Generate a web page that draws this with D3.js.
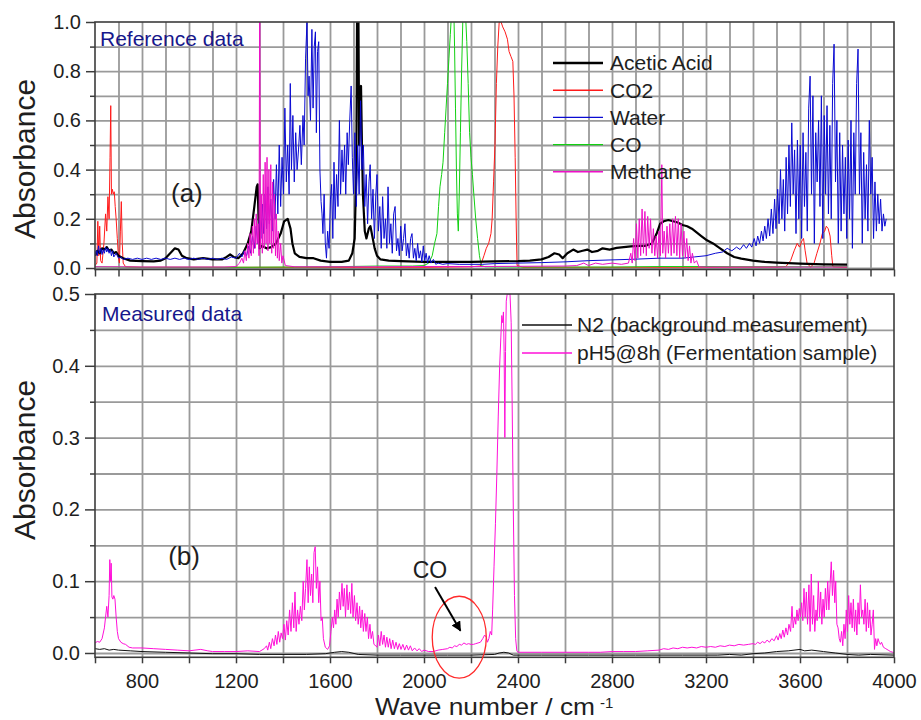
<!DOCTYPE html>
<html>
<head>
<meta charset="utf-8">
<script src="https://cdn.jsdelivr.net/npm/d3@7"></script>
<style>
  body { margin: 0; background: #fff; }
  svg { display: block; font-family: "Liberation Sans", Arial, sans-serif; }
</style>
</head>
<body>
<svg id="chart" width="921" height="720"></svg>
<script>
// ---- Spectra: [wave number (cm-1), absorbance] ----

// (a) reference spectra
const aceticAcid = [[600,0.05],[610,0.07],[620,0.06],[630,0.08],[640,0.075],[650,0.085],[660,0.07],[670,0.075],[680,0.06],[690,0.065],[700,0.05],[720,0.04],[750,0.03],[800,0.028],[850,0.027],[880,0.03],[900,0.04],[920,0.06],[940,0.08],[955,0.075],[970,0.05],[990,0.04],[1020,0.035],[1060,0.04],[1100,0.035],[1140,0.035],[1160,0.045],[1175,0.055],[1190,0.045],[1210,0.04],[1230,0.06],[1250,0.1],[1265,0.15],[1278,0.25],[1288,0.33],[1292,0.34],[1296,0.2],[1300,0.08],[1310,0.09],[1330,0.08],[1350,0.085],[1370,0.1],[1390,0.14],[1405,0.19],[1420,0.2],[1432,0.16],[1440,0.1],[1450,0.06],[1470,0.045],[1500,0.04],[1530,0.04],[1560,0.03],[1600,0.025],[1650,0.025],[1680,0.03],[1695,0.06],[1705,0.12],[1712,0.4],[1716,1.2],[1720,1.2],[1724,0.5],[1728,0.72],[1732,0.74],[1736,0.5],[1740,0.3],[1748,0.15],[1755,0.12],[1765,0.16],[1772,0.17],[1780,0.13],[1790,0.08],[1800,0.05],[1815,0.035],[1850,0.03],[1900,0.028],[2000,0.025],[2100,0.025],[2200,0.025],[2300,0.027],[2400,0.028],[2450,0.03],[2500,0.035],[2530,0.045],[2555,0.06],[2575,0.055],[2590,0.04],[2610,0.06],[2635,0.075],[2655,0.065],[2675,0.07],[2695,0.075],[2715,0.065],[2740,0.07],[2760,0.08],[2790,0.075],[2820,0.082],[2850,0.085],[2880,0.088],[2910,0.09],[2940,0.09],[2970,0.1],[2990,0.14],[3005,0.18],[3020,0.19],[3040,0.195],[3060,0.19],[3080,0.185],[3100,0.175],[3120,0.17],[3140,0.16],[3160,0.145],[3180,0.13],[3200,0.115],[3230,0.1],[3260,0.08],[3290,0.06],[3320,0.045],[3350,0.038],[3400,0.03],[3450,0.025],[3500,0.022],[3550,0.02],[3600,0.018],[3700,0.015],[3800,0.014]];

const co2 = [[600,0.01],[608,0.02],[612,0.19],[616,0.05],[620,0.17],[624,0.03],[630,0.02],[638,0.1],[645,0.22],[650,0.15],[655,0.29],[660,0.2],[664,0.45],[667,0.66],[670,0.3],[674,0.32],[678,0.3],[682,0.31],[686,0.25],[690,0.2],[695,0.12],[700,0.04],[704,0.02],[708,0.15],[712,0.27],[716,0.1],[720,0.02],[730,0.005],[800,0.003],[1200,0.003],[1600,0.003],[2000,0.003],[2200,0.005],[2240,0.008],[2255,0.05],[2265,0.08],[2275,0.1],[2285,0.14],[2290,0.2],[2296,0.35],[2302,0.5],[2308,0.75],[2314,0.9],[2320,1.0],[2328,1.0],[2335,0.98],[2345,0.96],[2355,0.93],[2362,0.88],[2370,0.86],[2378,0.84],[2383,0.7],[2388,0.45],[2392,0.2],[2396,0.01],[2420,0.003],[3000,0.003],[3500,0.004],[3540,0.006],[3560,0.03],[3575,0.07],[3588,0.1],[3598,0.085],[3608,0.11],[3615,0.12],[3622,0.07],[3630,0.02],[3645,0.003],[3660,0.02],[3672,0.06],[3685,0.1],[3695,0.14],[3705,0.15],[3712,0.17],[3720,0.16],[3728,0.13],[3735,0.05],[3740,0.005],[3800,0.003]];

const water = [[600,0.05],[605,0.07],[610,0.05],[615,0.09],[620,0.06],[625,0.08],[630,0.055],[635,0.075],[640,0.06],[645,0.085],[650,0.065],[655,0.08],[660,0.06],[665,0.075],[670,0.05],[675,0.07],[680,0.045],[690,0.06],[700,0.04],[710,0.045],[720,0.035],[740,0.04],[760,0.035],[780,0.04],[800,0.035],[820,0.04],[840,0.035],[860,0.04],[880,0.035],[900,0.04],[920,0.035],[940,0.04],[960,0.035],[980,0.04],[1000,0.035],[1020,0.04],[1040,0.035],[1060,0.04],[1080,0.035],[1100,0.04],[1120,0.035],[1140,0.04],[1160,0.035],[1180,0.045],[1200,0.04],[1215,0.06],[1225,0.045],[1235,0.07],[1245,0.05],[1255,0.09],[1262,0.06],[1270,0.13],[1278,0.08],[1286,0.17],[1292,0.1],[1300,0.2],[1306,0.12],[1312,0.26],[1318,0.14],[1324,0.3],[1330,0.16],[1336,0.33],[1342,0.18],[1348,0.28],[1354,0.15],[1360,0.36],[1366,0.2],[1372,0.42],[1378,0.22],[1384,0.5],[1390,0.25],[1396,0.45],[1402,0.3],[1408,0.65],[1414,0.35],[1420,0.5],[1426,0.3],[1431,0.75],[1436,0.4],[1442,0.62],[1448,0.35],[1454,0.55],[1460,0.4],[1466,0.48],[1472,0.58],[1478,0.42],[1485,0.62],[1490,0.5],[1496,0.85],[1502,1.0],[1507,0.7],[1511,0.78],[1517,0.6],[1523,0.97],[1528,0.65],[1533,0.9],[1538,0.96],[1542,0.55],[1547,0.88],[1552,0.92],[1557,0.4],[1562,0.27],[1566,0.22],[1570,0.14],[1575,0.3],[1580,0.1],[1585,0.04],[1590,0.15],[1596,0.08],[1602,0.28],[1607,0.34],[1612,0.12],[1617,0.43],[1622,0.2],[1628,0.38],[1634,0.25],[1640,0.6],[1645,0.3],[1651,0.48],[1656,0.35],[1662,0.5],[1667,0.3],[1673,0.55],[1678,0.42],[1684,0.6],[1690,0.74],[1695,0.45],[1700,0.3],[1706,0.55],[1712,0.25],[1718,0.5],[1724,0.3],[1730,0.68],[1736,0.4],[1742,0.5],[1748,0.25],[1754,0.38],[1760,0.18],[1766,0.35],[1771,0.42],[1777,0.2],[1783,0.32],[1789,0.12],[1795,0.3],[1800,0.38],[1806,0.15],[1812,0.25],[1818,0.08],[1824,0.29],[1830,0.12],[1836,0.2],[1842,0.08],[1847,0.33],[1853,0.1],[1859,0.18],[1865,0.06],[1871,0.22],[1877,0.25],[1883,0.07],[1889,0.12],[1895,0.05],[1901,0.17],[1907,0.07],[1913,0.12],[1919,0.18],[1925,0.05],[1931,0.1],[1937,0.04],[1943,0.12],[1949,0.14],[1955,0.04],[1961,0.08],[1967,0.03],[1973,0.1],[1979,0.04],[1985,0.07],[1991,0.025],[1997,0.09],[2003,0.03],[2009,0.06],[2015,0.02],[2022,0.05],[2030,0.02],[2040,0.035],[2050,0.015],[2060,0.02],[2080,0.015],[2100,0.018],[2150,0.015],[2200,0.015],[2250,0.015],[2300,0.018],[2400,0.02],[2500,0.022],[2600,0.025],[2700,0.03],[2800,0.033],[2900,0.036],[3000,0.04],[3100,0.04],[3150,0.045],[3200,0.05],[3240,0.06],[3270,0.065],[3290,0.08],[3310,0.07],[3330,0.085],[3345,0.075],[3360,0.095],[3372,0.08],[3385,0.1],[3395,0.085],[3405,0.12],[3413,0.09],[3420,0.13],[3428,0.1],[3436,0.15],[3443,0.11],[3450,0.17],[3457,0.12],[3464,0.2],[3471,0.13],[3478,0.24],[3485,0.14],[3492,0.28],[3498,0.16],[3505,0.32],[3511,0.18],[3517,0.4],[3523,0.2],[3529,0.36],[3535,0.15],[3541,0.45],[3547,0.22],[3553,0.5],[3559,0.25],[3565,0.59],[3571,0.3],[3577,0.48],[3583,0.14],[3589,0.52],[3595,0.2],[3601,0.5],[3607,0.12],[3613,0.55],[3619,0.25],[3625,0.47],[3631,0.15],[3637,0.65],[3643,0.78],[3649,0.3],[3655,0.7],[3661,0.1],[3667,0.55],[3673,0.35],[3679,0.6],[3685,0.25],[3691,0.7],[3697,0.12],[3703,0.62],[3709,0.3],[3715,0.66],[3721,0.22],[3727,0.58],[3733,0.2],[3739,0.75],[3745,0.91],[3751,0.35],[3757,0.6],[3763,0.1],[3769,0.55],[3775,0.15],[3781,0.5],[3787,0.22],[3793,0.45],[3799,0.12],[3805,0.52],[3811,0.2],[3817,0.6],[3823,0.08],[3829,0.55],[3835,0.3],[3841,0.75],[3847,0.89],[3853,0.3],[3859,0.55],[3865,0.1],[3871,0.47],[3877,0.2],[3883,0.42],[3889,0.15],[3895,0.6],[3901,0.3],[3907,0.45],[3913,0.12],[3919,0.35],[3925,0.15],[3931,0.3],[3937,0.18],[3943,0.28],[3949,0.15],[3955,0.22],[3961,0.17],[3967,0.2]];

const carbonMonoxide = [[600,0.005],[700,0.004],[800,0.003],[1000,0.003],[1200,0.003],[1400,0.004],[1600,0.005],[1800,0.008],[1950,0.008],[2000,0.01],[2020,0.02],[2035,0.05],[2045,0.1],[2055,0.14],[2062,0.25],[2068,0.33],[2075,0.38],[2081,0.43],[2088,0.55],[2094,0.65],[2100,0.75],[2106,0.85],[2112,0.95],[2118,1.05],[2126,1.1],[2130,0.9],[2134,0.65],[2138,0.4],[2142,0.22],[2146,0.15],[2150,0.3],[2155,0.55],[2160,0.8],[2165,1.0],[2170,1.1],[2176,1.05],[2182,0.92],[2188,0.75],[2194,0.55],[2200,0.45],[2206,0.38],[2212,0.3],[2220,0.2],[2228,0.12],[2236,0.05],[2244,0.01],[2260,0.005],[2400,0.004],[2600,0.004],[2800,0.004],[3000,0.006],[3200,0.006],[3400,0.005],[3600,0.005],[3800,0.005]];

const methane = [[600,0.005],[700,0.005],[800,0.004],[1000,0.004],[1150,0.004],[1200,0.006],[1215,0.02],[1225,0.04],[1232,0.02],[1238,0.07],[1244,0.03],[1250,0.1],[1255,0.04],[1260,0.14],[1265,0.05],[1270,0.17],[1274,0.06],[1278,0.2],[1282,0.08],[1286,0.22],[1290,0.1],[1294,0.18],[1298,0.05],[1301,1.2],[1304,0.08],[1308,0.3],[1312,0.06],[1316,0.38],[1320,0.08],[1324,0.43],[1328,0.1],[1332,0.45],[1336,0.07],[1340,0.4],[1344,0.1],[1348,0.42],[1352,0.06],[1356,0.35],[1360,0.08],[1364,0.3],[1368,0.05],[1372,0.22],[1376,0.04],[1380,0.15],[1384,0.03],[1390,0.1],[1395,0.02],[1400,0.05],[1410,0.01],[1450,0.005],[1600,0.005],[1800,0.005],[2000,0.006],[2200,0.006],[2400,0.007],[2600,0.008],[2650,0.01],[2680,0.02],[2700,0.01],[2730,0.02],[2760,0.015],[2800,0.02],[2840,0.015],[2870,0.02],[2880,0.06],[2886,0.02],[2892,0.12],[2898,0.03],[2904,0.18],[2910,0.04],[2916,0.2],[2922,0.05],[2928,0.24],[2934,0.06],[2940,0.23],[2946,0.05],[2952,0.21],[2958,0.08],[2964,0.2],[2970,0.06],[2976,0.16],[2982,0.05],[2988,0.13],[2994,0.04],[3000,0.15],[3006,0.05],[3012,0.42],[3016,0.06],[3022,0.15],[3028,0.04],[3034,0.17],[3040,0.06],[3046,0.18],[3052,0.05],[3058,0.2],[3064,0.06],[3070,0.21],[3076,0.05],[3082,0.2],[3088,0.04],[3094,0.18],[3100,0.05],[3106,0.15],[3112,0.04],[3118,0.12],[3124,0.03],[3130,0.09],[3136,0.02],[3142,0.06],[3150,0.02],[3160,0.03],[3170,0.005],[3200,0.004],[3400,0.004],[3600,0.004],[3800,0.004]];

// (b) measured spectra
const n2Background = [[600,0.006],[620,0.005],[640,0.006],[660,0.004],[680,0.005],[700,0.004],[750,0.003],[800,0.002],[900,0.001],[1000,0.0],[1100,-0.001],[1200,-0.001],[1300,-0.002],[1400,-0.002],[1500,-0.002],[1580,-0.001],[1620,0.001],[1650,0.002],[1680,0.001],[1720,-0.002],[1800,-0.003],[1900,-0.003],[2000,-0.003],[2100,-0.003],[2200,-0.003],[2300,-0.002],[2320,0.0],[2340,0.001],[2360,0.0],[2380,-0.003],[2500,-0.003],[2700,-0.003],[2900,-0.003],[3100,-0.003],[3250,-0.003],[3300,-0.002],[3350,-0.003],[3400,-0.001],[3450,0.0],[3500,0.002],[3550,0.003],[3600,0.005],[3620,0.003],[3650,0.004],[3700,0.002],[3750,0.0],[3800,-0.002],[3850,-0.003],[3900,-0.002],[4000,-0.003]];

const ph5Sample = [[600,0.014],[610,0.016],[620,0.015],[630,0.02],[640,0.035],[645,0.05],[650,0.065],[655,0.05],[660,0.08],[663,0.13],[666,0.1],[669,0.125],[672,0.078],[676,0.075],[680,0.08],[685,0.075],[690,0.05],[695,0.03],[700,0.02],[710,0.015],[720,0.013],[730,0.012],[745,0.008],[760,0.007],[800,0.007],[850,0.006],[900,0.005],[950,0.004],[1000,0.003],[1050,0.005],[1080,0.003],[1100,0.002],[1150,0.002],[1200,0.002],[1250,0.003],[1300,0.002],[1320,0.006],[1330,0.01],[1335,0.004],[1342,0.015],[1348,0.006],[1355,0.02],[1362,0.01],[1368,0.025],[1374,0.012],[1380,0.03],[1386,0.015],[1392,0.028],[1398,0.02],[1404,0.04],[1410,0.018],[1416,0.045],[1422,0.025],[1428,0.06],[1434,0.03],[1440,0.07],[1446,0.035],[1451,0.085],[1456,0.03],[1462,0.06],[1468,0.04],[1474,0.065],[1480,0.045],[1486,0.1],[1491,0.06],[1496,0.09],[1502,0.13],[1507,0.07],[1512,0.12],[1517,0.08],[1522,0.11],[1527,0.07],[1532,0.14],[1537,0.148],[1542,0.09],[1547,0.12],[1552,0.07],[1557,0.1],[1562,0.045],[1567,0.05],[1572,0.02],[1580,0.008],[1590,0.005],[1598,0.01],[1604,0.03],[1610,0.05],[1615,0.035],[1620,0.06],[1625,0.04],[1630,0.075],[1635,0.05],[1640,0.085],[1645,0.06],[1651,0.097],[1656,0.065],[1661,0.09],[1666,0.05],[1672,0.095],[1677,0.06],[1683,0.085],[1688,0.055],[1693,0.097],[1698,0.05],[1704,0.08],[1709,0.045],[1715,0.07],[1720,0.04],[1726,0.065],[1731,0.035],[1737,0.06],[1742,0.03],[1748,0.055],[1753,0.03],[1759,0.05],[1764,0.02],[1770,0.04],[1775,0.02],[1781,0.03],[1787,0.012],[1795,0.01],[1800,0.008],[1806,0.025],[1812,0.01],[1818,0.03],[1824,0.012],[1830,0.025],[1836,0.008],[1842,0.022],[1848,0.008],[1854,0.02],[1860,0.006],[1867,0.018],[1874,0.006],[1881,0.015],[1888,0.005],[1895,0.013],[1902,0.005],[1910,0.012],[1918,0.004],[1926,0.011],[1934,0.004],[1942,0.01],[1950,0.003],[1960,0.007],[1970,0.003],[1980,0.006],[1990,0.002],[2000,0.004],[2020,0.002],[2040,0.002],[2060,0.004],[2080,0.005],[2100,0.006],[2110,0.008],[2120,0.007],[2130,0.01],[2140,0.009],[2150,0.012],[2160,0.011],[2170,0.014],[2180,0.012],[2190,0.013],[2200,0.012],[2210,0.012],[2220,0.013],[2230,0.014],[2240,0.015],[2250,0.02],[2258,0.025],[2265,0.022],[2270,0.015],[2276,0.02],[2282,0.03],[2288,0.025],[2292,0.06],[2298,0.12],[2304,0.18],[2310,0.25],[2316,0.33],[2322,0.4],[2327,0.44],[2331,0.47],[2335,0.46],[2338,0.475],[2341,0.42],[2344,0.3],[2347,0.42],[2350,0.49],[2354,0.5],[2360,0.5],[2366,0.5],[2371,0.46],[2375,0.35],[2380,0.2],[2385,0.08],[2390,0.02],[2395,0.003],[2400,0.001],[2500,0.001],[2600,0.001],[2700,0.001],[2750,0.001],[2800,0.002],[2850,0.002],[2900,0.002],[2950,0.003],[3000,0.004],[3020,0.006],[3040,0.005],[3060,0.007],[3080,0.006],[3100,0.008],[3120,0.007],[3140,0.008],[3160,0.007],[3180,0.009],[3200,0.008],[3220,0.009],[3240,0.008],[3260,0.01],[3280,0.009],[3300,0.011],[3320,0.01],[3340,0.012],[3360,0.011],[3380,0.012],[3400,0.013],[3410,0.012],[3420,0.015],[3430,0.013],[3440,0.016],[3450,0.014],[3460,0.018],[3470,0.015],[3480,0.02],[3490,0.017],[3500,0.024],[3507,0.018],[3514,0.027],[3520,0.02],[3527,0.032],[3533,0.022],[3540,0.035],[3547,0.025],[3553,0.04],[3560,0.03],[3566,0.065],[3571,0.035],[3577,0.05],[3582,0.04],[3587,0.06],[3592,0.045],[3597,0.062],[3602,0.05],[3607,0.07],[3612,0.045],[3617,0.09],[3622,0.05],[3627,0.085],[3632,0.04],[3638,0.095],[3643,0.03],[3648,0.11],[3653,0.04],[3658,0.08],[3663,0.03],[3668,0.06],[3673,0.045],[3678,0.1],[3683,0.05],[3688,0.085],[3693,0.04],[3698,0.075],[3703,0.05],[3708,0.09],[3713,0.06],[3718,0.1],[3723,0.06],[3728,0.095],[3733,0.127],[3738,0.08],[3743,0.115],[3748,0.07],[3752,0.1],[3757,0.04],[3762,0.035],[3767,0.02],[3772,0.015],[3777,0.03],[3782,0.01],[3787,0.04],[3792,0.02],[3797,0.06],[3802,0.03],[3807,0.08],[3812,0.04],[3817,0.07],[3822,0.035],[3827,0.075],[3832,0.03],[3837,0.06],[3842,0.025],[3847,0.07],[3852,0.04],[3857,0.095],[3862,0.05],[3867,0.06],[3872,0.04],[3877,0.075],[3882,0.03],[3887,0.07],[3892,0.035],[3897,0.06],[3902,0.025],[3907,0.04],[3912,0.06],[3917,0.005],[3922,0.02],[3927,0.01],[3932,0.02],[3937,0.015],[3942,0.012],[3947,0.015],[3955,0.008],[3965,0.006],[3975,0.004],[3985,0.002],[3995,0.001],[4000,0.0]];

// ---- Axis ticks and grid positions ----
const xGridTopTicks = d3.range(600, 4001, 100);       // grid + ticks of panel (a)
const xTicksBottom = d3.range(600, 4001, 200);         // ticks of panel (b)
const xLabelTicks = [800, 1200, 1600, 2000, 2400, 2800, 3200, 3600, 4000];
const xTopInnerTicks = [600, 1000, 1400, 1800, 2200, 2600, 3000, 3400, 3800];
const yTopMajor = [0.0, 0.2, 0.4, 0.6, 0.8, 1.0];
const yTopMinor = [0.1, 0.3, 0.5, 0.7, 0.9];
const yTopGrid = [0.0, 0.1, 0.2, 0.3, 0.4, 0.5, 0.6, 0.7, 0.8, 0.9];
const yBotMajor = [0.0, 0.1, 0.2, 0.3, 0.4, 0.5];
const yBotMinor = [0.05, 0.15, 0.25, 0.35, 0.45];
const yBotGrid = [0.0, 0.05, 0.1, 0.15, 0.2, 0.25, 0.3, 0.35, 0.4, 0.45];

// ---- Series styles ----
const topSeries = [
  { name: "Acetic Acid", data: aceticAcid, color: "#000000", width: 2.2 },
  { name: "CO2", data: co2, color: "#ff1a1a", width: 1 },
  { name: "Water", data: water, color: "#0a0ad2", width: 1 },
  { name: "CO", data: carbonMonoxide, color: "#12d012", width: 1 },
  { name: "Methane", data: methane, color: "#ee10c8", width: 1 }
];
const drawOrder = ["CO2", "CO", "Acetic Acid", "Water", "Methane"];
const bottomSeries = [
  { name: "N2 (background measurement)", data: n2Background, color: "#111111", width: 1 },
  { name: "pH5@8h (Fermentation sample)", data: ph5Sample, color: "#ff10d8", width: 1 }
];

const svg = d3.select("#chart");
const left = 95, right = 894;
const topPanel = { y0: 22, y1: 269.5 };
const botPanel = { y0: 294, y1: 657.3 };

const x = d3.scaleLinear().domain([600, 4000]).range([left, right]);
const yTop = d3.scaleLinear().domain([-0.006, 1.0]).range([topPanel.y1, topPanel.y0]);
const yBot = d3.scaleLinear().domain([-0.006, 0.5]).range([botPanel.y1, botPanel.y0]);

const gridColor = "#9a9a9a";
const frameColor = "#3c3c3c";
const textColor = "#1e1e1e";

const defs = svg.append("defs");
defs.append("clipPath").attr("id", "clipTop").append("rect")
  .attr("x", left).attr("y", topPanel.y0).attr("width", right - left).attr("height", topPanel.y1 - topPanel.y0);
defs.append("clipPath").attr("id", "clipBot").append("rect")
  .attr("x", left).attr("y", botPanel.y0).attr("width", right - left).attr("height", botPanel.y1 - botPanel.y0);
defs.append("marker").attr("id", "arrowHead")
  .attr("viewBox", "0 0 10 10").attr("refX", 9).attr("refY", 5)
  .attr("markerWidth", 5).attr("markerHeight", 5).attr("orient", "auto")
  .attr("markerUnits", "strokeWidth")
  .append("path").attr("d", "M0,0 L10,5 L0,10 Z").attr("fill", "#000");

// ---- Grid (drawn through d3 axes with full-length ticks) ----
function drawGrid(xs, ys, yScale, panel) {
  const h = panel.y1 - panel.y0;
  const w = right - left;
  const gx = svg.append("g").attr("transform", `translate(0,${panel.y1})`)
    .call(d3.axisBottom(x).tickValues(xs).tickSize(-h).tickFormat(""));
  const gy = svg.append("g").attr("transform", `translate(${left},0)`)
    .call(d3.axisLeft(yScale).tickValues(ys).tickSize(-w).tickFormat(""));
  [gx, gy].forEach(g => {
    g.select(".domain").remove();
    g.selectAll(".tick line").attr("stroke", gridColor).attr("stroke-width", 1.8);
  });
}
drawGrid(xGridTopTicks.filter(d => d > 600 && d < 4000), yTopGrid, yTop, topPanel);
drawGrid(xTicksBottom.filter(d => d > 600 && d < 4000), yBotGrid, yBot, botPanel);

// ---- Lines ----
const lineTop = d3.line().x(d => x(d[0])).y(d => yTop(d[1]));
const lineBot = d3.line().x(d => x(d[0])).y(d => yBot(d[1]));

const gTop = svg.append("g").attr("clip-path", "url(#clipTop)");
drawOrder.forEach(n => {
  const s = topSeries.find(t => t.name === n);
  gTop.append("path").datum(s.data).attr("d", lineTop)
    .attr("fill", "none").attr("stroke", s.color).attr("stroke-width", s.width)
    .attr("stroke-linejoin", "round");
});
const gBot = svg.append("g").attr("clip-path", "url(#clipBot)");
bottomSeries.forEach(s => {
  gBot.append("path").datum(s.data).attr("d", lineBot)
    .attr("fill", "none").attr("stroke", s.color).attr("stroke-width", s.width)
    .attr("stroke-linejoin", "round");
});

// ---- Axes ----
function styleAxis(g) {
  g.select(".domain").remove();
  g.selectAll(".tick line").attr("stroke", frameColor).attr("stroke-width", 1.5);
  g.selectAll(".tick text").attr("fill", textColor).attr("font-size", 20)
    .attr("font-family", "'Liberation Sans', Arial, sans-serif");
}
const fmt1 = d3.format(".1f");

svg.append("g").attr("transform", `translate(${left},0)`)
  .call(d3.axisLeft(yTop).tickValues(yTopMajor).tickSize(9).tickPadding(5).tickFormat(fmt1)).call(styleAxis);
svg.append("g").attr("transform", `translate(${left},0)`)
  .call(d3.axisLeft(yTop).tickValues(yTopMinor).tickSize(5).tickFormat("")).call(styleAxis);
svg.append("g").attr("transform", `translate(0,${topPanel.y1})`)
  .call(d3.axisBottom(x).tickValues(xGridTopTicks).tickSize(7).tickFormat("")).call(styleAxis);

svg.append("g").attr("transform", `translate(${left},0)`)
  .call(d3.axisLeft(yBot).tickValues(yBotMajor).tickSize(10).tickPadding(5).tickFormat(fmt1)).call(styleAxis);
svg.append("g").attr("transform", `translate(${left},0)`)
  .call(d3.axisLeft(yBot).tickValues(yBotMinor).tickSize(5).tickFormat("")).call(styleAxis);
svg.append("g").attr("transform", `translate(0,${botPanel.y1})`)
  .call(d3.axisBottom(x).tickValues(xTicksBottom).tickSize(6).tickPadding(11)
    .tickFormat(d => xLabelTicks.includes(d) ? d : "")).call(styleAxis);
svg.append("g").attr("transform", `translate(0,${botPanel.y0})`)
  .call(d3.axisBottom(x).tickValues(xTopInnerTicks).tickSize(5).tickFormat("")).call(styleAxis);

// ---- Frames ----
[topPanel, botPanel].forEach(p => {
  svg.append("rect").attr("x", left).attr("y", p.y0)
    .attr("width", right - left).attr("height", p.y1 - p.y0)
    .attr("fill", "none").attr("stroke", frameColor).attr("stroke-width", 1.6);
});

// ---- Axis titles ----
svg.append("text").attr("transform", "translate(35,159) rotate(-90)")
  .attr("text-anchor", "middle").attr("font-size", 30).attr("fill", textColor).text("Absorbance");
svg.append("text").attr("transform", "translate(35,460) rotate(-90)")
  .attr("text-anchor", "middle").attr("font-size", 30).attr("fill", textColor).text("Absorbance");
svg.append("text").attr("x", 375).attr("y", 714.8).attr("font-size", 24)
  .attr("textLength", 220).attr("lengthAdjust", "spacingAndGlyphs")
  .attr("fill", textColor).text("Wave number / cm");
svg.append("text").attr("x", 600).attr("y", 707.5).attr("font-size", 15)
  .attr("fill", textColor).text("-1");

// ---- Panel captions ----
svg.append("text").attr("x", 100).attr("y", 46).attr("font-size", 21).attr("fill", "#17178c").text("Reference data");
svg.append("text").attr("x", 102).attr("y", 321).attr("font-size", 21).attr("fill", "#17178c").text("Measured data");
svg.append("text").attr("x", x(991)).attr("y", yTop(0.27)).attr("text-anchor", "middle")
  .attr("font-size", 26).attr("fill", textColor).text("(a)");
svg.append("text").attr("x", x(979)).attr("y", yBot(0.123)).attr("text-anchor", "middle")
  .attr("font-size", 26).attr("fill", textColor).text("(b)");

// ---- Legends ----
function legend(series, x0, x1, tx, y0, dy) {
  const g = svg.append("g");
  series.forEach((s, i) => {
    const yy = y0 + i * dy;
    g.append("line").attr("x1", x0).attr("x2", x1).attr("y1", yy).attr("y2", yy)
      .attr("stroke", s.color).attr("stroke-width", s.width === 1 ? 1.4 : 2.6);
    g.append("text").attr("x", tx).attr("y", yy).attr("dy", "0.35em")
      .attr("font-size", 21).attr("fill", textColor).text(s.name);
  });
}
legend(topSeries, 553, 603, 610, 63, 27.2);
legend(bottomSeries, 522, 572, 577, 325, 28);

// ---- CO annotation in panel (b) ----
svg.append("ellipse").attr("cx", x(2150)).attr("cy", yBot(0.022))
  .attr("rx", x(2265) - x(2150)).attr("ry", yBot(0.022) - yBot(0.079))
  .attr("fill", "none").attr("stroke", "#ff2a2a").attr("stroke-width", 1.3);
svg.append("line").attr("x1", x(2047)).attr("y1", yBot(0.092))
  .attr("x2", x(2155)).attr("y2", yBot(0.031))
  .attr("stroke", "#000").attr("stroke-width", 2).attr("marker-end", "url(#arrowHead)");
svg.append("text").attr("x", x(2025)).attr("y", yBot(0.104)).attr("text-anchor", "middle")
  .attr("font-size", 23).attr("fill", textColor).text("CO");
</script>
</body>
</html>
